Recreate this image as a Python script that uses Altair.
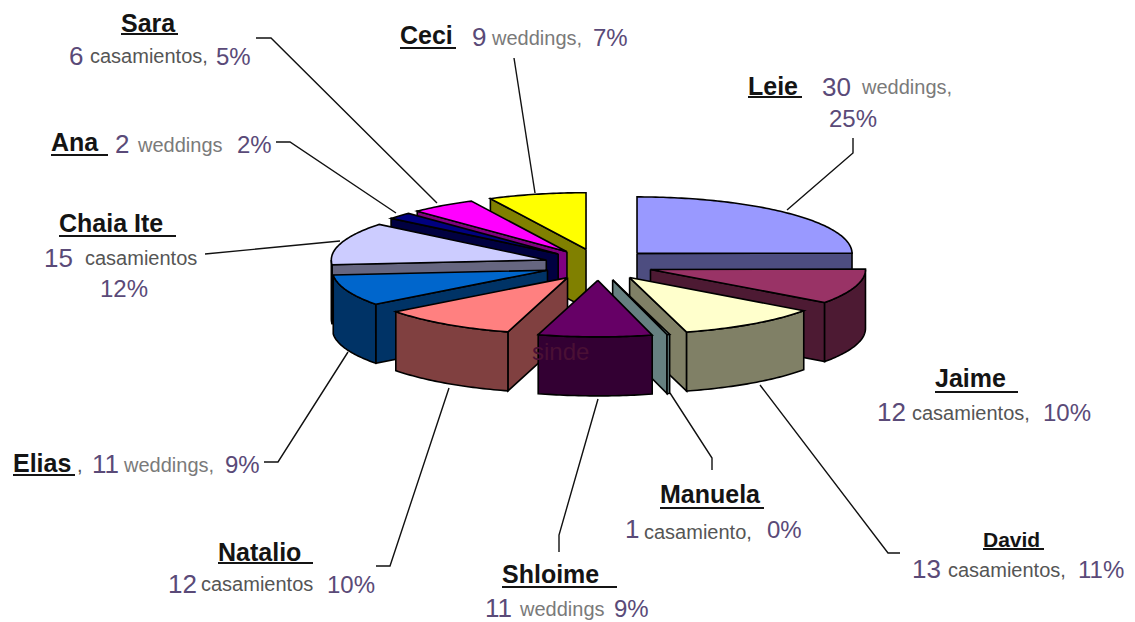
import math
import altair as alt
import pandas as pd

names = ["Leie", "Jaime", "David", "Manuela", "Shloime", "Natalio", "Elias", "Chaia Ite", "Ana", "Sara", "Ceci"]
slice_share = [24.8, 10, 10.7, 0.2, 8.5, 10.2, 8.9, 12.1, 1.9, 4.9, 7.3]
top_colors = ["#9999FF", "#993366", "#FFFFCC", "#CCFFFF", "#660066", "#FF8080", "#0066CC", "#CCCCFF", "#000080", "#FF00FF", "#FFFF00"]
side_colors = ["#4D4D80", "#4D1A33", "#808066", "#668080", "#330033", "#804040", "#003366", "#666680", "#000040", "#800080", "#808000"]
paint_order = ["Leie", "Ceci", "Sara", "Ana", "Chaia Ite", "Elias", "Jaime", "Natalio", "David", "Manuela", "Shloime"]

CX, CY, RX, RY, DEPTH, EXPLODE_X, EXPLODE_Y = 598.5, 264.6, 215, 56.5, 59, 54.6, 15.8

total = sum(slice_share)
rows = []
pid = [0]


def poly(points, fill):
    pts = points + [points[0]]
    for i, (x, y) in enumerate(pts):
        rows.append({"pid": pid[0], "seq": i, "x": x, "y": y, "fill": fill})
    pid[0] += 1


starts = {}
cum = 0
for n, v in zip(names, slice_share):
    starts[n] = (cum / total * 360, (cum + v) / total * 360)
    cum += v

for n in paint_order:
    i = names.index(n)
    a, b = starts[n]
    mid = math.radians((a + b) / 2)
    ax = CX + EXPLODE_X * math.sin(mid)
    ay = CY - EXPLODE_Y * math.cos(mid)

    def pt(deg):
        r = math.radians(deg)
        return ax + RX * math.sin(r), ay - RY * math.cos(r)

    def arc(d0, d1):
        k = max(2, int(abs(d1 - d0)) + 2)
        return [pt(d0 + (d1 - d0) * j / (k - 1)) for j in range(k)]

    side = side_colors[i]
    if math.sin(math.radians(a)) < -1e-6:
        p = pt(a)
        poly([(ax, ay), p, (p[0], p[1] + DEPTH), (ax, ay + DEPTH)], side)
    if math.sin(math.radians(b)) > 1e-6:
        p = pt(b)
        poly([(ax, ay), p, (p[0], p[1] + DEPTH), (ax, ay + DEPTH)], side)
    lo, hi = max(a, 90), min(b, 270)
    if hi > lo:
        curve = arc(lo, hi)
        poly(curve + [(x, y + DEPTH) for x, y in reversed(curve)], side)
    poly([(ax, ay)] + arc(a, b), top_colors[i])

slices = pd.DataFrame(rows)

leader_paths = {
    "Sara": [(256, 38), (271, 38), (437, 203)],
    "Ana": [(276, 142), (290, 142), (396, 213)],
    "Chaia Ite": [(205, 254), (340, 241)],
    "Ceci": [(514, 58), (535, 193)],
    "Leie": [(853, 138), (853, 153), (787, 210)],
    "Elias": [(264, 462), (278, 462), (348, 352)],
    "Natalio": [(376, 566), (390, 566), (449, 388)],
    "Shloime": [(559, 552), (559, 535), (598, 399)],
    "Manuela": [(712, 470), (712, 458), (670, 393)],
    "David": [(900, 553), (888, 553), (760, 385)],
}
leaders = pd.DataFrame([
    {"who": k, "seq": j, "x": x, "y": y}
    for k, path in leader_paths.items() for j, (x, y) in enumerate(path)
])

name_x = [748, 935, 983, 660, 502, 218, 13, 59, 51, 121, 400]
name_y = [95, 387, 547, 503, 583, 561, 472, 232, 151, 32, 44]
name_size = [25, 25, 21, 25, 25, 25, 25, 25, 25, 25, 25]
under_x2 = [802, 1018, 1044, 764, 617, 313, 75, 176, 108, 178, 456]
under_y = [97, 392, 549, 508, 587, 563, 475, 236, 155, 34, 48]

count_text = ["30", "12", "13", "1", "11", "12", "11", "15", "2", "6", "9"]
count_x = [822, 877, 912, 625, 485, 168, 92, 44, 115, 69, 472]
count_y = [96, 421, 578, 538, 617, 593, 473, 267, 153, 65, 46]

percent_text = ["25%", "10%", "11%", "0%", "9%", "10%", "9%", "12%", "2%", "5%", "7%"]
percent_x = [829, 1043, 1078, 767, 614, 327, 225, 100, 237, 216, 593]
percent_y = [127, 421, 578, 538, 617, 593, 473, 297, 153, 65, 46]

word_text = ["weddings,", "casamientos,", "casamientos,", "casamiento,", "weddings", "casamientos", "weddings,", "casamientos", "weddings", "casamientos,", "weddings,", ","]
word_x = [862, 912, 948, 644, 520, 201, 124, 85, 138, 90, 492, 77]
word_y = [94, 420, 577, 539, 616, 591, 472, 265, 152, 63, 45, 472]

x_scale = alt.Scale(domain=[8, 1127], nice=False, zero=False)
y_scale = alt.Scale(domain=[612, 8], nice=False, zero=False)
X = alt.X("x:Q", scale=x_scale, axis=None)
Y = alt.Y("y:Q", scale=y_scale, axis=None)

leader_layer = alt.Chart(leaders).mark_line(color="#111111", strokeWidth=1.4).encode(
    x=X, y=Y, detail="who:N", order="seq:Q")

slice_layer = alt.Chart(slices).mark_line(stroke="#000000", strokeWidth=1.6, strokeJoin="miter").encode(
    x=X, y=Y, detail="pid:Q", order="seq:Q",
    fill=alt.Fill("fill:N", scale=None))

names_df = pd.DataFrame({"t": names, "x": name_x, "y": name_y, "s": name_size})
under_df = pd.DataFrame({"x": name_x, "x2": under_x2, "y": under_y})
count_df = pd.DataFrame({"t": count_text, "x": count_x, "y": count_y})
pct_df = pd.DataFrame({"t": percent_text, "x": percent_x, "y": percent_y})
word_df = pd.DataFrame({"t": word_text, "x": word_x, "y": word_y})
word_df["c"] = ["#7A7A7A" if t.startswith("w") else "#555555" for t in word_text]
stray_df = pd.DataFrame({"t": ["sinde"], "x": [532], "y": [360]})

name_layer = alt.Chart(names_df).mark_text(align="left", baseline="alphabetic", font="Liberation Sans", fontWeight="bold", color="#141414").encode(
    x=X, y=Y, text="t:N", size=alt.Size("s:Q", scale=None))
under_layer = alt.Chart(under_df).mark_rule(color="#141414", strokeWidth=2).encode(
    x=X, x2="x2:Q", y=Y)
count_layer = alt.Chart(count_df).mark_text(align="left", baseline="alphabetic", font="Liberation Sans", fontSize=26, color="#5A4A78").encode(
    x=X, y=Y, text="t:N")
pct_layer = alt.Chart(pct_df).mark_text(align="left", baseline="alphabetic", font="Liberation Sans", fontSize=24, color="#5A4A78").encode(
    x=X, y=Y, text="t:N")
word_layer = alt.Chart(word_df).mark_text(align="left", baseline="alphabetic", font="Liberation Sans", fontSize=20).encode(
    x=X, y=Y, text="t:N", color=alt.Color("c:N", scale=None))
stray_layer = alt.Chart(stray_df).mark_text(align="left", baseline="alphabetic", font="Liberation Sans", fontSize=24, color="#4A1035").encode(
    x=X, y=Y, text="t:N")

chart = alt.layer(
    leader_layer, slice_layer, stray_layer, under_layer, name_layer, count_layer, pct_layer, word_layer
).resolve_scale(x="shared", y="shared").properties(
    width=1119, height=604, padding=0, background="white"
).configure_view(stroke=None)

chart.save("out.html", embed_options={"renderer": "svg", "actions": False})
